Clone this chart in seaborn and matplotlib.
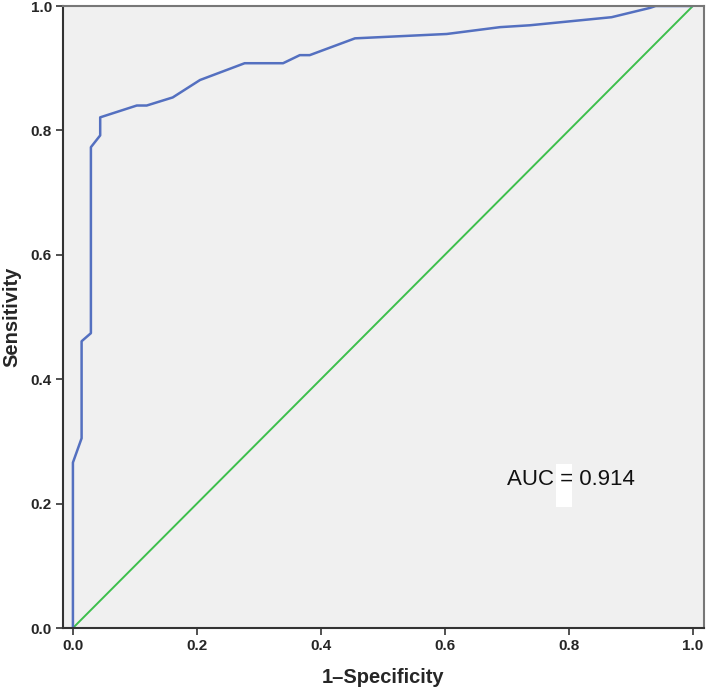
import matplotlib
matplotlib.use("Agg")
import matplotlib.pyplot as plt
import seaborn as sns
import pandas as pd
from matplotlib.patches import Rectangle

fpr = [0.0, 0.0, 0.014, 0.014, 0.029, 0.029, 0.044, 0.044, 0.103, 0.119, 0.161,
       0.205, 0.277, 0.339, 0.366, 0.382, 0.455, 0.603, 0.689, 0.737, 0.869,
       0.931, 0.94, 1.0]
tpr = [0.0, 0.266, 0.305, 0.461, 0.474, 0.773, 0.792, 0.821, 0.840, 0.840, 0.853,
       0.881, 0.908, 0.908, 0.921, 0.921, 0.948, 0.955, 0.966, 0.969, 0.982,
       0.997, 1.0, 1.0]
ref_line = [0.0, 1.0]
ticks = [0.0, 0.2, 0.4, 0.6, 0.8, 1.0]
tick_labels = ["0.0", "0.2", "0.4", "0.6", "0.8", "1.0"]
auc_text = "AUC = 0.914"

sns.set_style("white")
plt.rcParams["font.family"] = ["Liberation Sans", "DejaVu Sans"]

fig = plt.figure(figsize=(7.09, 6.94), dpi=100)
ax = fig.add_axes([63/709, 1-628/694, (704-63)/709, (628-6)/694])
ax.set_facecolor("#f0f0f0")

roc = pd.DataFrame({"fpr": fpr, "tpr": tpr})
diag = pd.DataFrame({"x": ref_line, "y": ref_line})
sns.lineplot(data=diag, x="x", y="y", ax=ax, color="#3dbf4c", lw=1.4,
             sort=False, estimator=None)
sns.lineplot(data=roc, x="fpr", y="tpr", ax=ax, color="#5470c0", lw=1.8,
             sort=False, estimator=None)

ax.set_xlim(-0.016, 1.018)
ax.set_ylim(0, 1.0)
ax.set_xticks(ticks)
ax.set_xticklabels(tick_labels, fontweight="bold", fontsize=11)
ax.set_yticks(ticks)
ax.set_yticklabels(tick_labels, fontweight="bold", fontsize=11)
ax.tick_params(axis="both", direction="out", length=5, width=1.2,
               color="#333333", bottom=True, left=True, pad=3)
ax.set_xlabel("1\u2013Specificity", fontweight="bold", fontsize=14.5, labelpad=11)
ax.set_ylabel("Sensitivity", fontweight="bold", fontsize=14.5, labelpad=7)
for s in ["left", "bottom"]:
    ax.spines[s].set_color("#333333")
    ax.spines[s].set_linewidth(1.5)
for s in ["top", "right"]:
    ax.spines[s].set_color("#777777")
    ax.spines[s].set_linewidth(1.5)

ax.add_patch(Rectangle((0.7795, 0.194), 0.026, 0.07, facecolor="white",
                       edgecolor="none", zorder=1))
ax.text(0.70, 0.238, auc_text, fontsize=16, ha="left", va="center",
        color="#111111", zorder=3)

fig.savefig("out.png", dpi=100)
